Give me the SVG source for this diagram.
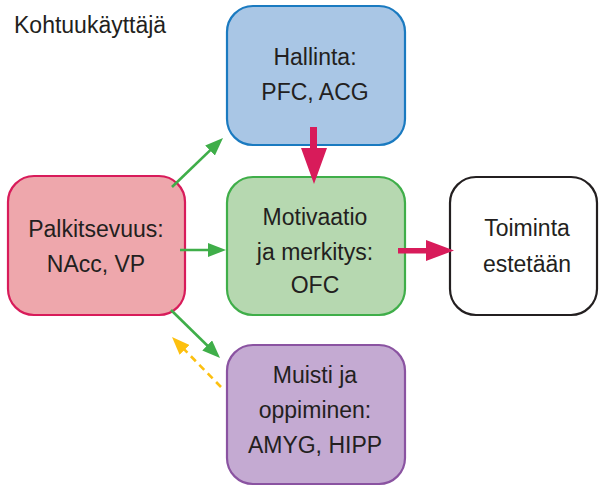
<svg xmlns="http://www.w3.org/2000/svg" width="599" height="486" viewBox="0 0 599 486">
<style>
.box{stroke-width:2.2}
.t{font-family:"Liberation Sans",Arial,sans-serif;font-size:23px;fill:#231f20;text-anchor:middle}
.g{stroke:#3fae49;stroke-width:2.6;fill:none}
.y{stroke:#fdc010;stroke-width:2.6;fill:none;stroke-dasharray:7 5}
.r{fill:#d81b5a}
</style>
<defs>
<marker id="hg" viewBox="0 0 18 14" refX="8" refY="7" markerWidth="18" markerHeight="14" markerUnits="userSpaceOnUse" orient="auto"><path d="M0,0 L18,7 L0,14 Z" fill="#3fae49"/></marker>
<marker id="hy" viewBox="0 0 18 14" refX="8" refY="7" markerWidth="18" markerHeight="14" markerUnits="userSpaceOnUse" orient="auto"><path d="M0,0 L18,7 L0,14 Z" fill="#fdc010"/></marker>
</defs>
<text x="14" y="33" style="font-family:'Liberation Sans',Arial,sans-serif;font-size:23px;fill:#231f20">Kohtuukäyttäjä</text>
<g id="hallinta">
<rect class="box" x="227" y="6" width="178" height="139" rx="26" fill="#a9c6e5" stroke="#1a7ac0"/>
<text class="t" x="315" y="65">Hallinta:</text>
<text class="t" x="315" y="100">PFC, ACG</text>
</g>
<g id="palkitsevuus">
<rect class="box" x="8" y="176" width="177" height="139" rx="26" fill="#eea7ac" stroke="#d81b5a"/>
<text class="t" x="96" y="237">Palkitsevuus:</text>
<text class="t" x="96" y="272">NAcc, VP</text>
</g>
<g id="motivaatio">
<rect class="box" x="227" y="177" width="178" height="138" rx="26" fill="#b6d8b0" stroke="#3fae49"/>
<text class="t" x="315" y="225">Motivaatio</text>
<text class="t" x="315" y="260">ja merkitys:</text>
<text class="t" x="315" y="293">OFC</text>
</g>
<g id="toiminta">
<rect class="box" x="450" y="177" width="147" height="138" rx="26" fill="#ffffff" stroke="#231f20"/>
<text class="t" x="527" y="236">Toiminta</text>
<text class="t" x="527" y="272">estetään</text>
</g>
<g id="muisti">
<rect class="box" x="227" y="345" width="178" height="139" rx="26" fill="#c4aad2" stroke="#8a53a1"/>
<text class="t" x="315" y="383">Muisti ja</text>
<text class="t" x="315" y="418">oppiminen:</text>
<text class="t" x="315" y="453">AMYG, HIPP</text>
</g>
<g id="connectors">
<line class="g" x1="172" y1="187" x2="215.8" y2="144.9" marker-end="url(#hg)"/>
<line class="g" x1="180" y1="250" x2="216" y2="250" marker-end="url(#hg)"/>
<line class="g" x1="171" y1="310" x2="212.9" y2="351" marker-end="url(#hg)"/>
<line class="y" x1="221" y1="387" x2="179" y2="344.1" marker-end="url(#hy)"/>
<path class="r" d="M310,127 H317 V148 H327 L314,184 L301,148 H310 Z"/>
<path class="r" d="M398,248 H426 V240 L454,250.5 L426,261 V253.5 H398 Z"/>
</g>
</svg>
